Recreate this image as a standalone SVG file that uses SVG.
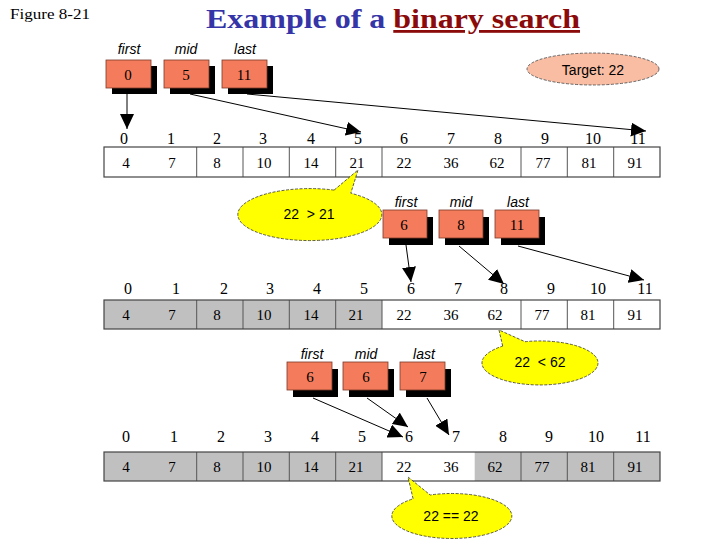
<svg xmlns="http://www.w3.org/2000/svg" width="720" height="540" viewBox="0 0 720 540">
<style>
.idx{font-family:"Liberation Serif",serif;font-size:16px;text-anchor:middle;fill:#000}
.val{font-family:"Liberation Serif",serif;font-size:15px;text-anchor:middle;fill:#000}
.lbl{font-family:"Liberation Sans",sans-serif;font-style:italic;font-size:14px;text-anchor:middle;fill:#000}
.box{fill:#f47c5c;stroke:#7a3a2a;stroke-width:0.8}
.shadow{fill:#000}
.bnum{font-family:"Liberation Serif",serif;font-size:15px;text-anchor:middle;fill:#000}
.cell{stroke:#555;stroke-width:1}
.frame{fill:none;stroke:#444;stroke-width:1.2}
.gray{fill:#c0c0c0}
.call{fill:#ffff00;stroke:#333;stroke-width:0.8;stroke-dasharray:3 1.5}
.ctext{font-family:"Liberation Sans",sans-serif;font-size:14px;text-anchor:middle;fill:#000;white-space:pre}
.arr{stroke:#000;stroke-width:1;fill:none;marker-end:url(#ah)}
</style>
<defs>
<marker id="ah" markerUnits="userSpaceOnUse" markerWidth="16" markerHeight="14" refX="15" refY="7" orient="auto">
<path d="M0,0 L15,7 L0,14 z" fill="#000"/>
</marker>
</defs>
<rect width="720" height="540" fill="#fff"/>
<g id="header">
<text x="10" y="19" font-family="Liberation Serif,serif" font-size="15" textLength="80" lengthAdjust="spacingAndGlyphs">Figure 8-21</text>
<text x="393" y="28" font-family="Liberation Serif,serif" font-size="28" font-weight="bold" text-anchor="middle" textLength="374" lengthAdjust="spacingAndGlyphs"><tspan fill="#3535a8">Example of a </tspan><tspan fill="#8b0a0a" text-decoration="underline">binary search</tspan></text>
</g>
<g id="target">
<ellipse cx="593" cy="69" rx="66" ry="16" fill="#f9bda3" stroke="#444" stroke-width="0.8" stroke-dasharray="3 1.5"/>
<text x="593" y="75" class="ctext" font-size="15">Target: 22</text>
</g>
<g id="pointers1">
<text class="lbl" x="129" y="54">first</text>
<text class="lbl" x="186" y="54">mid</text>
<text class="lbl" x="245" y="54">last</text>
<rect class="shadow" x="112" y="66" width="45" height="28"/>
<rect class="box" x="106" y="60" width="45" height="28"/>
<text class="bnum" x="128" y="80">0</text>
<rect class="shadow" x="170" y="66" width="45" height="28"/>
<rect class="box" x="164" y="60" width="45" height="28"/>
<text class="bnum" x="186" y="80">5</text>
<rect class="shadow" x="228" y="66" width="45" height="28"/>
<rect class="box" x="222" y="60" width="45" height="28"/>
<text class="bnum" x="244" y="80">11</text>
</g>
<g id="array1">
<rect x="104" y="147" width="556" height="30" fill="#fff"/>
<g class="cell">
<line x1="196.7" y1="147" x2="196.7" y2="177"/><line x1="243" y1="147" x2="243" y2="177"/><line x1="289.3" y1="147" x2="289.3" y2="177"/><line x1="335.7" y1="147" x2="335.7" y2="177"/><line x1="382" y1="147" x2="382" y2="177"/><line x1="521" y1="147" x2="521" y2="177"/><line x1="567.3" y1="147" x2="567.3" y2="177"/><line x1="613.7" y1="147" x2="613.7" y2="177"/>
</g>
<rect class="frame" x="104" y="147" width="556" height="30"/>
<text class="idx" y="144"><tspan x="124">0</tspan><tspan x="171">1</tspan><tspan x="217">2</tspan><tspan x="263">3</tspan><tspan x="311">4</tspan><tspan x="358">5</tspan><tspan x="404">6</tspan><tspan x="451">7</tspan><tspan x="498">8</tspan><tspan x="545">9</tspan><tspan x="593">10</tspan><tspan x="638">11</tspan></text>
<text class="val" y="168"><tspan x="126">4</tspan><tspan x="172">7</tspan><tspan x="217">8</tspan><tspan x="264">10</tspan><tspan x="311">14</tspan><tspan x="357">21</tspan><tspan x="404">22</tspan><tspan x="451">36</tspan><tspan x="497">62</tspan><tspan x="543">77</tspan><tspan x="589">81</tspan><tspan x="635">91</tspan></text>
</g>
<g id="callout1">
<path class="call" d="M334.1,190.1 L358,170 L350.8,193.2 A72,26 0 1,1 334.1,190.1 z"/>
<text class="ctext" x="309" y="219">22  &gt; 21</text>
</g>
<g id="pointers2">
<text class="lbl" x="406" y="207">first</text>
<text class="lbl" x="461" y="207">mid</text>
<text class="lbl" x="518" y="207">last</text>
<rect class="shadow" x="389" y="217" width="44" height="28"/>
<rect class="box" x="383" y="210" width="44" height="28"/>
<text class="bnum" x="404" y="230">6</text>
<rect class="shadow" x="445" y="217" width="44" height="28"/>
<rect class="box" x="439" y="210" width="44" height="28"/>
<text class="bnum" x="461" y="230">8</text>
<rect class="shadow" x="501" y="217" width="44" height="28"/>
<rect class="box" x="495" y="210" width="44" height="28"/>
<text class="bnum" x="517" y="230">11</text>
</g>
<g id="array2">
<rect x="104" y="300" width="556" height="29" fill="#fff"/>
<rect class="gray" x="104" y="300" width="278" height="29"/>
<g class="cell">
<line x1="196.7" y1="300" x2="196.7" y2="329"/><line x1="243" y1="300" x2="243" y2="329"/><line x1="289.3" y1="300" x2="289.3" y2="329"/><line x1="335.7" y1="300" x2="335.7" y2="329"/><line x1="382" y1="300" x2="382" y2="329"/><line x1="521" y1="300" x2="521" y2="329"/><line x1="567.3" y1="300" x2="567.3" y2="329"/><line x1="613.7" y1="300" x2="613.7" y2="329"/>
</g>
<rect class="frame" x="104" y="300" width="556" height="29"/>
<text class="idx" y="294"><tspan x="128">0</tspan><tspan x="176">1</tspan><tspan x="224">2</tspan><tspan x="270">3</tspan><tspan x="317">4</tspan><tspan x="364">5</tspan><tspan x="411">6</tspan><tspan x="458">7</tspan><tspan x="504">8</tspan><tspan x="551">9</tspan><tspan x="598">10</tspan><tspan x="645">11</tspan></text>
<text class="val" y="320"><tspan x="126">4</tspan><tspan x="172">7</tspan><tspan x="217">8</tspan><tspan x="264">10</tspan><tspan x="311">14</tspan><tspan x="356">21</tspan><tspan x="404">22</tspan><tspan x="451">36</tspan><tspan x="495">62</tspan><tspan x="542">77</tspan><tspan x="588">81</tspan><tspan x="635">91</tspan></text>
</g>
<g id="callout2">
<path class="call" d="M502.7,346.1 L499,330 L525,341.7 A58,22 0 1,1 502.7,346.1 z"/>
<text class="ctext" x="540" y="367">22  &lt; 62</text>
</g>
<g id="pointers3">
<text class="lbl" x="312" y="359">first</text>
<text class="lbl" x="366" y="359">mid</text>
<text class="lbl" x="424" y="359">last</text>
<rect class="shadow" x="293" y="369" width="45" height="28"/>
<rect class="box" x="287" y="362" width="45" height="28"/>
<text class="bnum" x="310" y="382">6</text>
<rect class="shadow" x="349" y="369" width="45" height="28"/>
<rect class="box" x="343" y="362" width="45" height="28"/>
<text class="bnum" x="366" y="382">6</text>
<rect class="shadow" x="406" y="369" width="45" height="28"/>
<rect class="box" x="400" y="362" width="45" height="28"/>
<text class="bnum" x="423" y="382">7</text>
</g>
<g id="array3">
<rect x="104" y="452" width="556" height="29" fill="#fff"/>
<rect class="gray" x="104" y="452" width="278" height="29"/>
<rect class="gray" x="474.7" y="452" width="185.3" height="29"/>
<g class="cell">
<line x1="196.7" y1="452" x2="196.7" y2="481"/><line x1="243" y1="452" x2="243" y2="481"/><line x1="289.3" y1="452" x2="289.3" y2="481"/><line x1="335.7" y1="452" x2="335.7" y2="481"/><line x1="382" y1="452" x2="382" y2="481"/><line x1="521" y1="452" x2="521" y2="481"/><line x1="567.3" y1="452" x2="567.3" y2="481"/><line x1="613.7" y1="452" x2="613.7" y2="481"/>
</g>
<rect class="frame" x="104" y="452" width="556" height="29"/>
<text class="idx" y="442"><tspan x="126">0</tspan><tspan x="174">1</tspan><tspan x="221">2</tspan><tspan x="268">3</tspan><tspan x="315">4</tspan><tspan x="362">5</tspan><tspan x="409">6</tspan><tspan x="456">7</tspan><tspan x="503">8</tspan><tspan x="549">9</tspan><tspan x="596">10</tspan><tspan x="643">11</tspan></text>
<text class="val" y="472"><tspan x="126">4</tspan><tspan x="172">7</tspan><tspan x="217">8</tspan><tspan x="264">10</tspan><tspan x="311">14</tspan><tspan x="356">21</tspan><tspan x="404">22</tspan><tspan x="451">36</tspan><tspan x="495">62</tspan><tspan x="542">77</tspan><tspan x="588">81</tspan><tspan x="635">91</tspan></text>
</g>
<g id="callout3">
<path class="call" d="M413.1,498.8 L408,477 L430.2,495 A60,22.5 0 1,1 413.1,498.8 z"/>
<text class="ctext" x="451" y="521">22 == 22</text>
</g>
<g id="connectors">
<line class="arr" x1="127" y1="94" x2="127" y2="129" stroke="#666"/>
<line class="arr" x1="190" y1="94" x2="361" y2="132"/>
<line class="arr" x1="247" y1="94" x2="646" y2="131"/>
<line class="arr" x1="406" y1="245" x2="411" y2="282"/>
<line class="arr" x1="459" y1="246" x2="504" y2="284"/>
<line class="arr" x1="518" y1="246" x2="644" y2="280"/>
<line class="arr" x1="313" y1="398" x2="403" y2="437"/>
<line class="arr" x1="367" y1="398" x2="408" y2="427"/>
<line class="arr" x1="427" y1="398" x2="449" y2="435"/>
</g>
</svg>
